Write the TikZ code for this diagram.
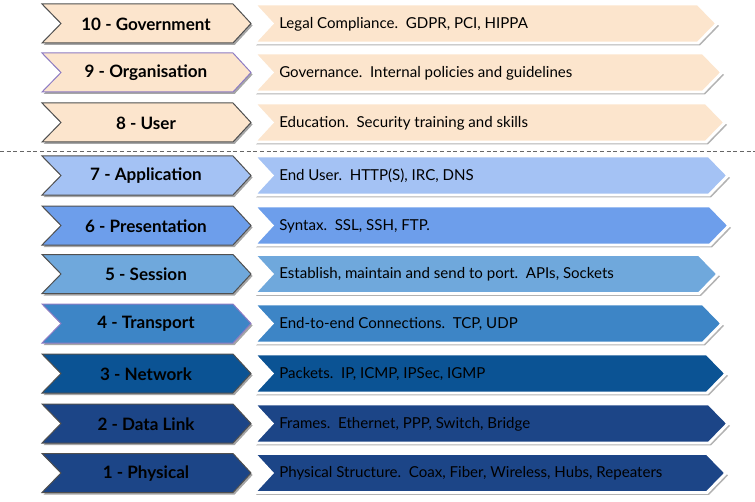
\documentclass[tikz,border=0pt]{standalone}
\usepackage{fontspec}
\setmainfont{Lato}
\usetikzlibrary{shadows}
\definecolor{beige}{HTML}{FCE5CD}
\definecolor{cseven}{HTML}{A4C2F4}
\definecolor{csix}{HTML}{6D9EEB}
\definecolor{cfive}{HTML}{6FA8DC}
\definecolor{cfour}{HTML}{3D85C6}
\definecolor{cthree}{HTML}{0B5394}
\definecolor{ctwo}{HTML}{1C4587}
\definecolor{cone}{HTML}{1C4587}
\definecolor{edgegray}{HTML}{505050}
\definecolor{edgepurple}{HTML}{8E7CC3}
\tikzset{
  leftchev/.style={line width=0.75pt, drop shadow={shadow xshift=1.2pt, shadow yshift=-1.5pt, opacity=0.35, fill=black}},
  rightchev/.style={draw=white, line width=2.2pt, line join=miter, drop shadow={shadow xshift=1.5pt, shadow yshift=-1.8pt, opacity=0.3, fill=black}},
  lefttext/.style={font=\fontsize{12.8}{15}\selectfont\bfseries, text=black, anchor=center, inner sep=0pt},
  righttext/.style={font=\fontsize{11.3}{13}\selectfont, text=black, anchor=west, inner sep=0pt},
  divider/.style={draw=black!60, line width=0.6pt, dash pattern=on 3pt off 2pt}
}
\begin{document}
\begin{tikzpicture}[x=0.75pt,y=-0.75pt]
\useasboundingbox (0,0) rectangle (755,502);
\foreach \n/\c/\fc/\ec/\lt/\rt/\tip in {
  ten/23.5/beige/edgegray/{10 - Government}/{Legal Compliance.\ \ GDPR, PCI, HIPPA}/717,
  nine/72.5/beige/edgepurple/{9 - Organisation}/{Governance.\ \ Internal policies and guidelines}/722,
  eight/122.5/beige/edgegray/{8 - User}/{Education.\ \ Security training and skills}/725,
  seven/175.5/cseven/edgegray/{7 - Application}/{End User.\ \ HTTP(S), IRC, DNS}/728,
  six/225.5/csix/edgegray/{6 - Presentation}/{Syntax.\ \ SSL, SSH, FTP.}/729,
  five/274/cfive/edgegray/{5 - Session}/{Establish, maintain and send to port.\ \ APIs, Sockets}/718,
  four/323.5/cfour/edgepurple/{4 - Transport}/{End-to-end Connections.\ \ TCP, UDP}/722,
  three/373.5/cthree/edgegray/{3 - Network}/{Packets.\ \ IP, ICMP, IPSec, IGMP}/726,
  two/423.5/ctwo/edgegray/{2 - Data Link}/{Frames.\ \ Ethernet, PPP, Switch, Bridge}/728,
  one/473/cone/edgegray/{1 - Physical}/{Physical Structure.\ \ Coax, Fiber, Wireless, Hubs, Repeaters}/726}
{
  \filldraw[leftchev, fill=\fc, draw=\ec]
    (42,\c-19.5) -- (233,\c-19.5) -- (251,\c) -- (233,\c+19.5) -- (42,\c+19.5) -- (61,\c) -- cycle;
  \filldraw[rightchev, fill=\fc]
    (254,\c-19.5) -- (\tip-19,\c-19.5) -- (\tip,\c) -- (\tip-19,\c+19.5) -- (254,\c+19.5) -- (272,\c) -- cycle;
  \node[lefttext] (l\n) at (146,\c+0.5) {\lt};
  \node[righttext] (r\n) at (279,\c+0.5) {\rt};
}
\coordinate (dl) at (0,151);
\coordinate (dr) at (755,151);
\draw[divider] (dl) -- (dr);
\end{tikzpicture}
\end{document}
